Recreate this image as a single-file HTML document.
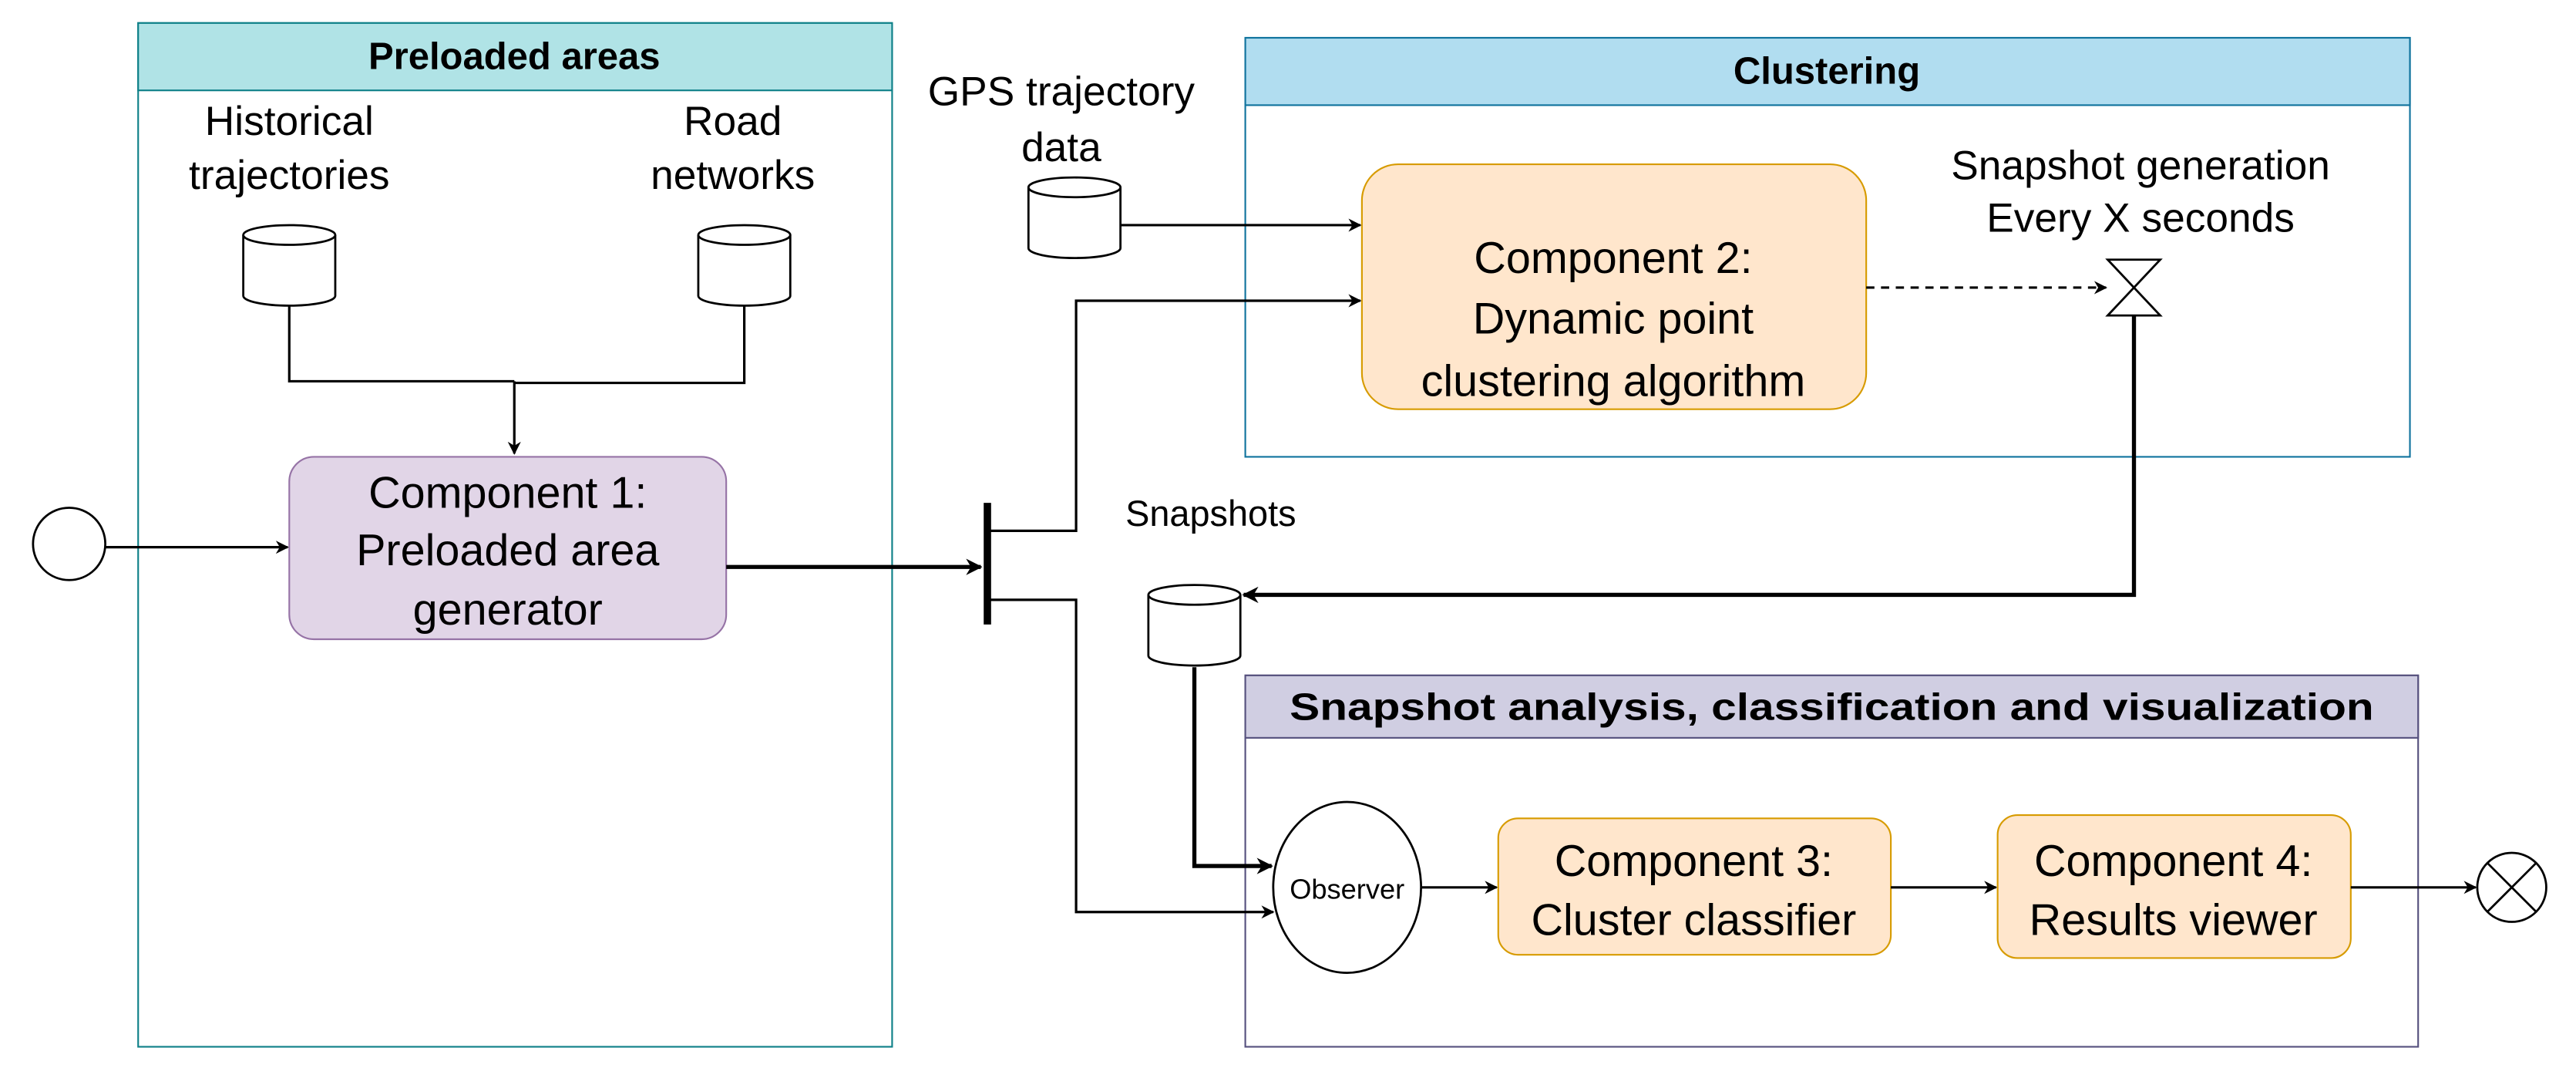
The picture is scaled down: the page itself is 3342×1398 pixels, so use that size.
<!DOCTYPE html>
<html><head><meta charset="utf-8"><style>
html,body{margin:0;padding:0;background:#fff;}
svg{display:block;}
text{font-family:"Liberation Sans",sans-serif;fill:#000;}
</style></head><body>
<svg width="3342" height="1398" viewBox="0 0 1568 656" xmlns="http://www.w3.org/2000/svg">
<defs>
<marker id="a" viewBox="0 0 10 10" refX="9" refY="5" markerWidth="8" markerHeight="8" orient="auto" markerUnits="userSpaceOnUse"><path d="M0,0 L10,5 L0,10 L3,5 Z" fill="#000"/></marker>
<marker id="b" viewBox="0 0 10 10" refX="9" refY="5" markerWidth="10" markerHeight="10" orient="auto" markerUnits="userSpaceOnUse"><path d="M0,0 L10,5 L0,10 L3,5 Z" fill="#000"/></marker>
</defs>
<g fill="none" stroke-width="1">
<rect x="84" y="14" width="459" height="623" stroke="#0e8088" fill="#fff"/>
<rect x="84" y="14" width="459" height="41" stroke="#0e8088" fill="#b0e3e6"/>
<rect x="758" y="23" width="709" height="255" stroke="#10739e" fill="#fff"/>
<rect x="758" y="23" width="709" height="41" stroke="#10739e" fill="#b1ddf0"/>
<rect x="758" y="411" width="714" height="226" stroke="#56517e" fill="#fff"/>
<rect x="758" y="411" width="714" height="38" stroke="#56517e" fill="#d0cee2"/>
</g>
<g font-weight="bold" font-size="23" text-anchor="middle">
<text x="313" y="42">Preloaded areas</text>
<text x="1112" y="51">Clustering</text>
<text x="1115" y="438" textLength="660" lengthAdjust="spacingAndGlyphs">Snapshot analysis, classification and visualization</text>
</g>
<rect x="176" y="278" width="266" height="111" rx="15" fill="#e1d5e7" stroke="#9673a6"/>
<rect x="829" y="100" width="307" height="149" rx="22" fill="#ffe6cc" stroke="#d79b00"/>
<rect x="912" y="498" width="239" height="83" rx="12" fill="#ffe6cc" stroke="#d79b00"/>
<rect x="1216" y="496" width="215" height="87" rx="12" fill="#ffe6cc" stroke="#d79b00"/>
<g font-size="27" text-anchor="middle">
<text x="309" y="309">Component 1:</text><text x="309" y="344">Preloaded area</text><text x="309" y="380">generator</text>
<text x="982" y="166">Component 2:</text><text x="982" y="203">Dynamic point</text><text x="982" y="241">clustering algorithm</text>
<text x="1031" y="533">Component 3:</text><text x="1031" y="569">Cluster classifier</text>
<text x="1323" y="533">Component 4:</text><text x="1323" y="569">Results viewer</text>
</g>
<g font-size="25" text-anchor="middle">
<text x="176" y="82">Historical</text><text x="176" y="115">trajectories</text>
<text x="446" y="82">Road</text><text x="446" y="115">networks</text>
<text x="646" y="64">GPS trajectory</text><text x="646" y="98">data</text>
<text x="1303" y="109">Snapshot generation</text><text x="1303" y="141">Every X seconds</text>
<text x="737" y="320" font-size="22">Snapshots</text>
</g>
<g fill="#fff" stroke="#000" stroke-width="1.3">
<path d="M148,143 v37 a28,6 0 0 0 56,0 v-37"/><ellipse cx="176" cy="143" rx="28" ry="6"/>
<path d="M425,143 v37 a28,6 0 0 0 56,0 v-37"/><ellipse cx="453" cy="143" rx="28" ry="6"/>
<path d="M626,114 v37 a28,6 0 0 0 56,0 v-37"/><ellipse cx="654" cy="114" rx="28" ry="6"/>
<path d="M699,362 v37 a28,6 0 0 0 56,0 v-37"/><ellipse cx="727" cy="362" rx="28" ry="6"/>
<circle cx="42" cy="331" r="22"/>
<ellipse cx="820" cy="540" rx="45" ry="52"/>
<circle cx="1529" cy="540" r="21"/>
<path d="M1514,525 L1544,555 M1544,525 L1514,555"/>
<path d="M1283,158 L1315,158 L1283,192 L1315,192 Z"/>
</g>
<text x="820" y="547" font-size="17" text-anchor="middle">Observer</text>
<g fill="none" stroke="#000" stroke-width="1.5">
<path d="M176,186 V232 H313 M453,186 V233 H313"/>
<path d="M313,232 V276" marker-end="url(#a)"/>
<path d="M64,333 H175" marker-end="url(#a)"/>
<path d="M601,323 H655 V183 H828" marker-end="url(#a)"/>
<path d="M601,365 H655 V555 H775" marker-end="url(#a)"/>
<path d="M682,137 H828" marker-end="url(#a)"/>
<path d="M1136,175 H1282" stroke-dasharray="5,4" marker-end="url(#a)"/>
<path d="M865,540 H911" marker-end="url(#a)"/>
<path d="M1151,540 H1215" marker-end="url(#a)"/>
<path d="M1431,540 H1507" marker-end="url(#a)"/>
</g>
<g fill="none" stroke="#000" stroke-width="2.5">
<path d="M442,345 H597" marker-end="url(#b)"/>
<path d="M1299,192 V362 H757" marker-end="url(#b)"/>
<path d="M727,406 V527 H774" marker-end="url(#b)"/>
<path d="M601,306 V380" stroke-width="4.5"/>
</g>
</svg>
</body></html>
